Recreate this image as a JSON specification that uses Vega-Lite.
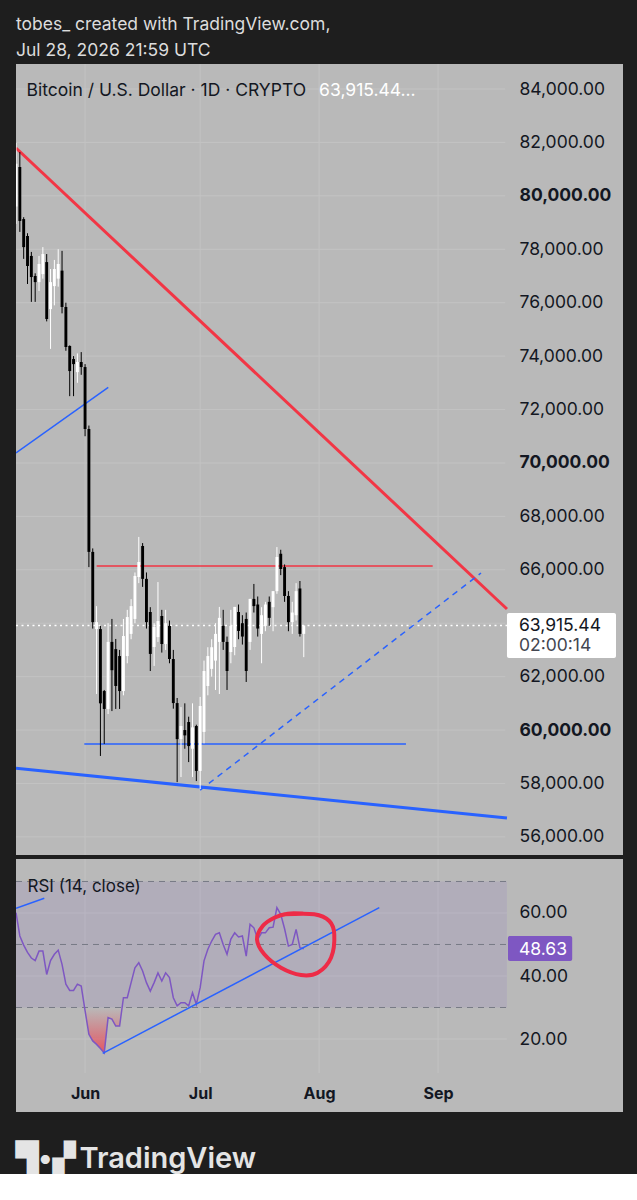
{
  "$schema": "https://vega.github.io/schema/vega-lite/v6.json",
  "background": "#1e1e1e",
  "padding": {"left": 15, "right": 15, "top": 16, "bottom": 0},
  "spacing": 2,
  "title": {"text": ["tobes_ created with TradingView.com,", "Jul 28, 2026 21:59 UTC"], "anchor": "start", "frame": "group", "color": "#dcdcdc", "font": "Inter", "fontSize": 17.5, "fontWeight": "normal", "lineHeight": 26, "offset": 4},
  "config": {
    "view": {"stroke": null},
    "axis": {"domain": false, "ticks": false, "grid": false, "labelFont": "Inter", "labelFontSize": 17.5, "labelColor": "#131722"}
  },
  "resolve": {"scale": {"x": "independent", "y": "independent"}},
  "vconcat": [
    {
      "width": 607,
      "height": 791,
      "view": {"fill": "#b9b9b9", "stroke": null},
      "layer": [
        {
          "data": {"values": [{"date": "2026-06-01T00:00:00Z"}, {"date": "2026-07-01T00:00:00Z"}, {"date": "2026-08-01T00:00:00Z"}, {"date": "2026-09-01T00:00:00Z"}]},
          "mark": {"type": "rule", "color": "#c3c3c3", "strokeWidth": 1},
          "encoding": {"x": {"field": "date", "type": "temporal", "scale": {"type": "utc", "padding": 0, "domain": [{"year": 2026, "month": 5, "date": 14, "utc": true}, {"year": 2026, "month": 10, "date": 19, "hours": 4, "minutes": 48, "utc": true}]}, "axis": null}}
        },
        {
          "data": {"values": [{"price": 56000}, {"price": 58000}, {"price": 60000}, {"price": 62000}, {"price": 64000}, {"price": 66000}, {"price": 68000}, {"price": 70000}, {"price": 72000}, {"price": 74000}, {"price": 76000}, {"price": 78000}, {"price": 80000}, {"price": 82000}, {"price": 84000}]},
          "mark": {"type": "rule", "color": "#c3c3c3", "strokeWidth": 1},
          "encoding": {
            "x": {"datum": {"year": 2026, "month": 5, "date": 14, "utc": true}, "type": "temporal"},
            "x2": {"datum": {"year": 2026, "month": 9, "date": 18, "hours": 12, "utc": true}},
            "y": {"field": "price", "type": "quantitative", "scale": {"domain": [55322, 84936], "nice": false, "zero": false, "padding": 0},
              "axis": {"orient": "right", "offset": -117, "labelPadding": 13, "title": null, "format": ",.2f",
                "values": [56000, 58000, 60000, 62000, 66000, 68000, 70000, 72000, 74000, 76000, 78000, 80000, 82000, 84000],
                "labelFontWeight": {"condition": {"test": "datum.value % 10000 === 0", "value": "bold"}, "value": "normal"}}}
          }
        },
        {
          "data": {"values": [{}]},
          "mark": {"type": "rule", "color": "#ffffff", "strokeWidth": 1.5, "strokeDash": [2, 3.5]},
          "encoding": {
            "x": {"datum": {"year": 2026, "month": 5, "date": 14, "utc": true}, "type": "temporal"},
            "x2": {"datum": {"year": 2026, "month": 9, "date": 18, "hours": 23, "utc": true}},
            "y": {"datum": 63915.44, "type": "quantitative", "title": null}
          }
        },
        {
          "data": {"values": [{"date": "2026-05-14T00:00:00Z", "price": 81789}, {"date": "2026-09-18T23:00:00Z", "price": 64531}]},
          "mark": {"type": "line", "color": "#f23645", "strokeWidth": 3, "clip": true},
          "encoding": {"x": {"field": "date", "type": "temporal"}, "y": {"field": "price", "type": "quantitative", "title": null}}
        },
        {
          "data": {"values": [{"date": "2026-06-04T00:43:00Z", "price": 66141}, {"date": "2026-08-30T14:24:00Z", "price": 66141}]},
          "mark": {"type": "line", "color": "#f23645", "strokeWidth": 1.5},
          "encoding": {"x": {"field": "date", "type": "temporal"}, "y": {"field": "price", "type": "quantitative", "title": null}}
        },
        {
          "data": {"values": [{"date": "2026-05-14T00:00:00Z", "price": 70372}, {"date": "2026-06-07T01:00:00Z", "price": 72832}]},
          "mark": {"type": "line", "color": "#2962ff", "strokeWidth": 1.5, "clip": true},
          "encoding": {"x": {"field": "date", "type": "temporal"}, "y": {"field": "price", "type": "quantitative", "title": null}}
        },
        {
          "data": {"values": [{"date": "2026-05-31T19:12:00Z", "price": 59477}, {"date": "2026-08-23T15:22:00Z", "price": 59477}]},
          "mark": {"type": "line", "color": "#2962ff", "strokeWidth": 1.5},
          "encoding": {"x": {"field": "date", "type": "temporal"}, "y": {"field": "price", "type": "quantitative", "title": null}}
        },
        {
          "data": {"values": [{"date": "2026-05-14T00:00:00Z", "price": 58567}, {"date": "2026-09-18T23:00:00Z", "price": 56706}]},
          "mark": {"type": "line", "color": "#2962ff", "strokeWidth": 3, "clip": true},
          "encoding": {"x": {"field": "date", "type": "temporal"}, "y": {"field": "price", "type": "quantitative", "title": null}}
        },
        {
          "data": {"values": [{"date": "2026-07-01T00:00:00Z", "price": 57750}, {"date": "2026-09-12T04:34:00Z", "price": 65879}]},
          "mark": {"type": "line", "color": "#2962ff", "strokeWidth": 1.5, "strokeDash": [6, 5]},
          "encoding": {"x": {"field": "date", "type": "temporal"}, "y": {"field": "price", "type": "quantitative", "title": null}}
        },
        {
          "data": {"name": "candles"},
          "layer": [
            {
              "mark": {"type": "rule", "strokeWidth": 1, "clip": true},
              "encoding": {
                "x": {"field": "date", "type": "temporal"},
                "y": {"field": "low", "type": "quantitative", "title": null},
                "y2": {"field": "high"},
                "color": {"condition": {"test": "datum.close >= datum.open", "value": "#ffffff"}, "value": "#000000"}
              }
            },
            {
              "mark": {"type": "bar", "width": 2.9, "clip": true},
              "encoding": {
                "x": {"field": "date", "type": "temporal"},
                "y": {"field": "open", "type": "quantitative", "title": null},
                "y2": {"field": "close"},
                "color": {"condition": {"test": "datum.close >= datum.open", "value": "#ffffff"}, "value": "#000000"}
              }
            }
          ]
        },
        {
          "data": {"values": [{"date": "2026-05-16T18:00:00Z", "price": 83738, "label": "Bitcoin / U.S. Dollar · 1D · CRYPTO"}]},
          "mark": {"type": "text", "align": "left", "baseline": "alphabetic", "font": "Inter", "fontSize": 17.5, "color": "#131722"},
          "encoding": {"x": {"field": "date", "type": "temporal"}, "y": {"field": "price", "type": "quantitative", "title": null}, "text": {"field": "label"}}
        },
        {
          "data": {"values": [{"date": "2026-08-01T00:00:00Z", "price": 83738, "label": "63,915.44..."}]},
          "mark": {"type": "text", "align": "left", "baseline": "alphabetic", "font": "Inter", "fontSize": 17.5, "color": "#ffffff"},
          "encoding": {"x": {"field": "date", "type": "temporal"}, "y": {"field": "price", "type": "quantitative", "title": null}, "text": {"field": "label"}}
        },
        {
          "data": {"values": [{}]},
          "mark": {"type": "rect", "color": "#ffffff", "cornerRadius": 2},
          "encoding": {
            "x": {"datum": {"year": 2026, "month": 9, "date": 18, "hours": 23, "utc": true}, "type": "temporal"},
            "x2": {"datum": {"year": 2026, "month": 10, "date": 17, "hours": 9, "utc": true}},
            "y": {"datum": 64382, "type": "quantitative", "title": null},
            "y2": {"datum": 62697}
          }
        },
        {
          "data": {"values": [{"date": "2026-09-22T02:00:00Z", "price": 63708, "label": "63,915.44", "kind": "price"}, {"date": "2026-09-22T02:00:00Z", "price": 62970, "label": "02:00:14", "kind": "timer"}]},
          "mark": {"type": "text", "align": "left", "baseline": "alphabetic", "font": "Inter", "fontSize": 17.5},
          "encoding": {
            "x": {"field": "date", "type": "temporal"},
            "y": {"field": "price", "type": "quantitative", "title": null},
            "text": {"field": "label"},
            "color": {"field": "kind", "type": "nominal", "scale": {"domain": ["price", "timer"], "range": ["#131722", "#434651"]}, "legend": null}
          }
        }
      ]
    },
    {
      "width": 607,
      "height": 253,
      "view": {"fill": "#b9b9b9", "stroke": null},
      "title": {"text": "▜•▞\u2009TradingView", "orient": "bottom", "anchor": "start", "frame": "group", "font": "Inter", "fontSize": 29, "fontWeight": 600, "color": "#e4e4e4", "offset": 33},
      "layer": [
        {
          "data": {"values": [{"date": "2026-06-01T00:00:00Z"}, {"date": "2026-07-01T00:00:00Z"}, {"date": "2026-08-01T00:00:00Z"}, {"date": "2026-09-01T00:00:00Z"}]},
          "mark": {"type": "rule", "color": "#c3c3c3", "strokeWidth": 1},
          "encoding": {
            "x": {"field": "date", "type": "temporal", "scale": {"type": "utc", "padding": 0, "domain": [{"year": 2026, "month": 5, "date": 14, "utc": true}, {"year": 2026, "month": 10, "date": 19, "hours": 4, "minutes": 48, "utc": true}]},
              "axis": {"orient": "bottom", "offset": -29, "labelPadding": 2, "format": "%b", "title": null, "labelFontWeight": "bold", "labelFontSize": 16, "labelFlush": false,
                "values": [{"year": 2026, "month": 6, "date": 1, "utc": true}, {"year": 2026, "month": 7, "date": 1, "utc": true}, {"year": 2026, "month": 8, "date": 1, "utc": true}, {"year": 2026, "month": 9, "date": 1, "utc": true}]}},
            "y": {"datum": 77.14, "type": "quantitative", "title": null},
            "y2": {"datum": 9.2}
          }
        },
        {
          "data": {"values": [{"rsi": 20}, {"rsi": 40}, {"rsi": 60}]},
          "mark": {"type": "rule", "color": "#c3c3c3", "strokeWidth": 1},
          "encoding": {
            "x": {"datum": {"year": 2026, "month": 5, "date": 14, "utc": true}, "type": "temporal"},
            "x2": {"datum": {"year": 2026, "month": 9, "date": 18, "hours": 23, "utc": true}},
            "y": {"field": "rsi", "type": "quantitative", "scale": {"domain": [-3.17, 77.14], "nice": false, "zero": false, "padding": 0},
              "axis": {"orient": "right", "offset": -117, "labelPadding": 13, "title": null, "format": ".2f", "values": [20, 40, 60]}}
          }
        },
        {
          "data": {"values": [{}]},
          "mark": {"type": "rect", "color": "#7e57c2", "opacity": 0.12},
          "encoding": {
            "x": {"datum": {"year": 2026, "month": 5, "date": 14, "utc": true}, "type": "temporal"},
            "x2": {"datum": {"year": 2026, "month": 9, "date": 18, "hours": 23, "utc": true}},
            "y": {"datum": 70, "type": "quantitative", "title": null},
            "y2": {"datum": 30}
          }
        },
        {
          "data": {"values": [{"rsi": 70}, {"rsi": 50}, {"rsi": 30}]},
          "mark": {"type": "rule", "color": "#787b86", "strokeWidth": 1, "strokeDash": [6, 5]},
          "encoding": {
            "x": {"datum": {"year": 2026, "month": 5, "date": 14, "utc": true}, "type": "temporal"},
            "x2": {"datum": {"year": 2026, "month": 9, "date": 18, "hours": 23, "utc": true}},
            "y": {"field": "rsi", "type": "quantitative", "title": null}
          }
        },
        {
          "data": {"values": [
            {"date": "2026-05-31T15:22:00Z", "rsi": 30}, {"date": "2026-06-01T00:00:00Z", "rsi": 29.0}, {"date": "2026-06-02T00:00:00Z", "rsi": 21.5},
            {"date": "2026-06-03T00:00:00Z", "rsi": 19.4}, {"date": "2026-06-04T00:00:00Z", "rsi": 18.3}, {"date": "2026-06-05T00:00:00Z", "rsi": 17.0},
            {"date": "2026-06-06T00:00:00Z", "rsi": 15.6}, {"date": "2026-06-07T00:00:00Z", "rsi": 26.8}, {"date": "2026-06-08T00:00:00Z", "rsi": 26.3},
            {"date": "2026-06-09T00:00:00Z", "rsi": 24.1}, {"date": "2026-06-10T00:00:00Z", "rsi": 24.1}, {"date": "2026-06-10T15:50:00Z", "rsi": 30}
          ]},
          "mark": {"type": "area", "color": {"gradient": "linear", "x1": 0, "y1": 0, "x2": 0, "y2": 1, "stops": [{"offset": 0, "color": "rgba(242,54,69,0)"}, {"offset": 1, "color": "rgba(242,54,69,0.75)"}]}},
          "encoding": {
            "x": {"field": "date", "type": "temporal"},
            "y": {"field": "rsi", "type": "quantitative", "title": null},
            "y2": {"datum": 30}
          }
        },
        {
          "data": {"name": "candles"},
          "mark": {"type": "line", "color": "#7e57c2", "strokeWidth": 1.5, "clip": true},
          "encoding": {"x": {"field": "date", "type": "temporal"}, "y": {"field": "rsi", "type": "quantitative", "title": null}}
        },
        {
          "data": {"values": [{"date": "2026-06-05T14:24:00Z", "rsi": 15.46}, {"date": "2026-08-16T16:19:00Z", "rsi": 61.7}]},
          "mark": {"type": "line", "color": "#2962ff", "strokeWidth": 1.5},
          "encoding": {"x": {"field": "date", "type": "temporal"}, "y": {"field": "rsi", "type": "quantitative", "title": null}}
        },
        {
          "data": {"values": [{"date": "2026-05-14T00:00:00Z", "rsi": 61.5}, {"date": "2026-05-21T09:00:00Z", "rsi": 64.7}]},
          "mark": {"type": "line", "color": "#2962ff", "strokeWidth": 1.5, "clip": true},
          "encoding": {"x": {"field": "date", "type": "temporal"}, "y": {"field": "rsi", "type": "quantitative", "title": null}}
        },
        {
          "data": {"values": [
            {"step": 1, "date": "2026-07-22T22:05:00Z", "rsi": 59.59}, {"step": 2, "date": "2026-07-30T17:46:00Z", "rsi": 59.59},
            {"step": 3, "date": "2026-08-03T15:36:00Z", "rsi": 57.46}, {"step": 4, "date": "2026-08-04T22:48:00Z", "rsi": 53.24},
            {"step": 5, "date": "2026-08-04T02:24:00Z", "rsi": 45.81}, {"step": 6, "date": "2026-07-31T15:07:00Z", "rsi": 41.05},
            {"step": 7, "date": "2026-07-27T06:43:00Z", "rsi": 40.32}, {"step": 8, "date": "2026-07-22T01:26:00Z", "rsi": 42.63},
            {"step": 9, "date": "2026-07-17T17:02:00Z", "rsi": 46.89}, {"step": 10, "date": "2026-07-15T19:26:00Z", "rsi": 51.65},
            {"step": 11, "date": "2026-07-17T07:12:00Z", "rsi": 55.87}, {"step": 12, "date": "2026-07-20T07:41:00Z", "rsi": 58.51},
            {"step": 13, "date": "2026-07-23T19:26:00Z", "rsi": 59.78}, {"step": 14, "date": "2026-07-27T17:17:00Z", "rsi": 59.78}
          ]},
          "mark": {"type": "line", "color": "#ee2b47", "strokeWidth": 4, "interpolate": "cardinal", "strokeCap": "round"},
          "encoding": {"x": {"field": "date", "type": "temporal"}, "y": {"field": "rsi", "type": "quantitative", "title": null}, "order": {"field": "step", "type": "quantitative"}}
        },
        {
          "data": {"values": [{"date": "2026-05-17T00:00:00Z", "rsi": 66.76, "label": "RSI (14, close)"}]},
          "mark": {"type": "text", "align": "left", "baseline": "alphabetic", "font": "Inter", "fontSize": 17, "color": "#131722"},
          "encoding": {"x": {"field": "date", "type": "temporal"}, "y": {"field": "rsi", "type": "quantitative", "title": null}, "text": {"field": "label"}}
        },
        {
          "data": {"values": [{}]},
          "mark": {"type": "rect", "color": "#7e57c2", "cornerRadius": 2},
          "encoding": {
            "x": {"datum": {"year": 2026, "month": 9, "date": 19, "hours": 5, "utc": true}, "type": "temporal"},
            "x2": {"datum": {"year": 2026, "month": 10, "date": 5, "hours": 23, "utc": true}},
            "y": {"datum": 52.7, "type": "quantitative", "title": null},
            "y2": {"datum": 44.76}
          }
        },
        {
          "data": {"values": [{"date": "2026-09-22T02:00:00Z", "rsi": 46.67, "label": "48.63"}]},
          "mark": {"type": "text", "align": "left", "baseline": "alphabetic", "font": "Inter", "fontSize": 17.5, "color": "#ffffff"},
          "encoding": {"x": {"field": "date", "type": "temporal"}, "y": {"field": "rsi", "type": "quantitative", "title": null}, "text": {"field": "label"}}
        }
      ]
    }
  ],
  "datasets": {
    "candles": [
      {"date": "2026-05-14T00:00:00Z", "open": 79600, "high": 81980, "low": 78950, "close": 81200, "rsi": 60.1},
      {"date": "2026-05-15T00:00:00Z", "open": 81080, "high": 81640, "low": 78650, "close": 79060, "rsi": 52.7},
      {"date": "2026-05-16T00:00:00Z", "open": 79130, "high": 79200, "low": 77640, "close": 78080, "rsi": 49.8},
      {"date": "2026-05-17T00:00:00Z", "open": 78500, "high": 78600, "low": 76700, "close": 77370, "rsi": 47.5},
      {"date": "2026-05-18T00:00:00Z", "open": 77750, "high": 77900, "low": 76030, "close": 76960, "rsi": 45.7},
      {"date": "2026-05-19T00:00:00Z", "open": 77000, "high": 77100, "low": 76030, "close": 76770, "rsi": 44.9},
      {"date": "2026-05-20T00:00:00Z", "open": 76770, "high": 77750, "low": 76440, "close": 77450, "rsi": 47.9},
      {"date": "2026-05-21T00:00:00Z", "open": 77070, "high": 78080, "low": 76900, "close": 77820, "rsi": 47.9},
      {"date": "2026-05-22T00:00:00Z", "open": 77520, "high": 77820, "low": 75300, "close": 75390, "rsi": 40.5},
      {"date": "2026-05-23T00:00:00Z", "open": 75760, "high": 77260, "low": 74270, "close": 76770, "rsi": 44.9},
      {"date": "2026-05-24T00:00:00Z", "open": 76620, "high": 77600, "low": 75900, "close": 77260, "rsi": 46.9},
      {"date": "2026-05-25T00:00:00Z", "open": 76900, "high": 78000, "low": 76600, "close": 77450, "rsi": 48.2},
      {"date": "2026-05-26T00:00:00Z", "open": 77200, "high": 77940, "low": 75600, "close": 75840, "rsi": 43.7},
      {"date": "2026-05-27T00:00:00Z", "open": 75840, "high": 76000, "low": 74200, "close": 74340, "rsi": 37.4},
      {"date": "2026-05-28T00:00:00Z", "open": 74380, "high": 74400, "low": 72500, "close": 73440, "rsi": 35.4},
      {"date": "2026-05-29T00:00:00Z", "open": 73890, "high": 74000, "low": 72500, "close": 73700, "rsi": 35.4},
      {"date": "2026-05-30T00:00:00Z", "open": 73400, "high": 74100, "low": 73000, "close": 73780, "rsi": 37.4},
      {"date": "2026-05-31T00:00:00Z", "open": 73780, "high": 74150, "low": 73300, "close": 73590, "rsi": 36.8},
      {"date": "2026-06-01T00:00:00Z", "open": 73590, "high": 73700, "low": 71000, "close": 71270, "rsi": 29.0},
      {"date": "2026-06-02T00:00:00Z", "open": 71270, "high": 71400, "low": 66100, "close": 66670, "rsi": 21.5},
      {"date": "2026-06-03T00:00:00Z", "open": 66670, "high": 66800, "low": 63800, "close": 64040, "rsi": 19.4},
      {"date": "2026-06-04T00:00:00Z", "open": 63780, "high": 64640, "low": 61350, "close": 64040, "rsi": 18.3},
      {"date": "2026-06-05T00:00:00Z", "open": 63780, "high": 63900, "low": 59030, "close": 61000, "rsi": 17.0},
      {"date": "2026-06-06T00:00:00Z", "open": 61460, "high": 61500, "low": 59480, "close": 60790, "rsi": 15.6},
      {"date": "2026-06-07T00:00:00Z", "open": 60790, "high": 64000, "low": 60600, "close": 63300, "rsi": 26.8},
      {"date": "2026-06-08T00:00:00Z", "open": 63300, "high": 64160, "low": 60710, "close": 62240, "rsi": 26.3},
      {"date": "2026-06-09T00:00:00Z", "open": 63030, "high": 63410, "low": 60790, "close": 61650, "rsi": 24.1},
      {"date": "2026-06-10T00:00:00Z", "open": 62770, "high": 63000, "low": 60790, "close": 61460, "rsi": 24.1},
      {"date": "2026-06-11T00:00:00Z", "open": 61460, "high": 64160, "low": 61300, "close": 63520, "rsi": 33.1},
      {"date": "2026-06-12T00:00:00Z", "open": 62770, "high": 64500, "low": 62500, "close": 64230, "rsi": 33.1},
      {"date": "2026-06-13T00:00:00Z", "open": 63600, "high": 64900, "low": 63400, "close": 64640, "rsi": 37.9},
      {"date": "2026-06-14T00:00:00Z", "open": 64160, "high": 65900, "low": 64000, "close": 65770, "rsi": 42.6},
      {"date": "2026-06-15T00:00:00Z", "open": 65730, "high": 67230, "low": 65500, "close": 66290, "rsi": 44.2},
      {"date": "2026-06-16T00:00:00Z", "open": 66890, "high": 67000, "low": 65360, "close": 65660, "rsi": 41.6},
      {"date": "2026-06-17T00:00:00Z", "open": 65660, "high": 65900, "low": 63800, "close": 64040, "rsi": 37.9},
      {"date": "2026-06-18T00:00:00Z", "open": 64420, "high": 64600, "low": 62210, "close": 62850, "rsi": 35.2},
      {"date": "2026-06-19T00:00:00Z", "open": 63110, "high": 64000, "low": 62400, "close": 63860, "rsi": 37.9},
      {"date": "2026-06-20T00:00:00Z", "open": 63480, "high": 65540, "low": 63300, "close": 64080, "rsi": 41.0},
      {"date": "2026-06-21T00:00:00Z", "open": 64270, "high": 64500, "low": 62900, "close": 63220, "rsi": 38.4},
      {"date": "2026-06-22T00:00:00Z", "open": 63220, "high": 64500, "low": 63000, "close": 64000, "rsi": 41.0},
      {"date": "2026-06-23T00:00:00Z", "open": 63900, "high": 64100, "low": 62500, "close": 62660, "rsi": 39.5},
      {"date": "2026-06-24T00:00:00Z", "open": 62660, "high": 63000, "low": 60800, "close": 61010, "rsi": 33.1},
      {"date": "2026-06-25T00:00:00Z", "open": 61010, "high": 61200, "low": 58050, "close": 59660, "rsi": 30.5},
      {"date": "2026-06-26T00:00:00Z", "open": 59660, "high": 60860, "low": 58240, "close": 60150, "rsi": 31.5},
      {"date": "2026-06-27T00:00:00Z", "open": 60000, "high": 61000, "low": 59300, "close": 59800, "rsi": 31.5},
      {"date": "2026-06-28T00:00:00Z", "open": 60300, "high": 60500, "low": 58800, "close": 59400, "rsi": 30.5},
      {"date": "2026-06-29T00:00:00Z", "open": 59300, "high": 61000, "low": 58240, "close": 60100, "rsi": 34.7},
      {"date": "2026-06-30T00:00:00Z", "open": 60150, "high": 60200, "low": 58090, "close": 58470, "rsi": 31.0},
      {"date": "2026-07-01T00:00:00Z", "open": 58470, "high": 61240, "low": 57790, "close": 60900, "rsi": 36.3},
      {"date": "2026-07-02T00:00:00Z", "open": 59930, "high": 62600, "low": 59500, "close": 62210, "rsi": 44.8},
      {"date": "2026-07-03T00:00:00Z", "open": 61650, "high": 63100, "low": 61300, "close": 62770, "rsi": 48.5},
      {"date": "2026-07-04T00:00:00Z", "open": 62290, "high": 63400, "low": 62000, "close": 63100, "rsi": 51.1},
      {"date": "2026-07-05T00:00:00Z", "open": 62600, "high": 64000, "low": 61500, "close": 63600, "rsi": 53.2},
      {"date": "2026-07-06T00:00:00Z", "open": 63300, "high": 64610, "low": 61350, "close": 64200, "rsi": 53.7},
      {"date": "2026-07-07T00:00:00Z", "open": 63900, "high": 64500, "low": 63000, "close": 63300, "rsi": 50.0},
      {"date": "2026-07-08T00:00:00Z", "open": 63300, "high": 63500, "low": 61500, "close": 62210, "rsi": 46.9},
      {"date": "2026-07-09T00:00:00Z", "open": 62920, "high": 64500, "low": 62500, "close": 63900, "rsi": 51.7},
      {"date": "2026-07-10T00:00:00Z", "open": 63110, "high": 64610, "low": 62800, "close": 64610, "rsi": 53.7},
      {"date": "2026-07-11T00:00:00Z", "open": 64420, "high": 64700, "low": 63400, "close": 63710, "rsi": 52.4},
      {"date": "2026-07-12T00:00:00Z", "open": 64000, "high": 64300, "low": 63200, "close": 63500, "rsi": 52.7},
      {"date": "2026-07-13T00:00:00Z", "open": 64160, "high": 64400, "low": 61800, "close": 62210, "rsi": 46.3},
      {"date": "2026-07-14T00:00:00Z", "open": 63300, "high": 64910, "low": 63000, "close": 64910, "rsi": 56.4},
      {"date": "2026-07-15T00:00:00Z", "open": 64910, "high": 65470, "low": 64400, "close": 64640, "rsi": 55.3},
      {"date": "2026-07-16T00:00:00Z", "open": 64700, "high": 65000, "low": 63500, "close": 63800, "rsi": 51.7},
      {"date": "2026-07-17T00:00:00Z", "open": 63600, "high": 64600, "low": 62500, "close": 64300, "rsi": 53.7},
      {"date": "2026-07-18T00:00:00Z", "open": 63900, "high": 64800, "low": 63700, "close": 64700, "rsi": 53.7},
      {"date": "2026-07-19T00:00:00Z", "open": 64800, "high": 65000, "low": 63900, "close": 64200, "rsi": 55.3},
      {"date": "2026-07-20T00:00:00Z", "open": 64600, "high": 65200, "low": 63700, "close": 65200, "rsi": 55.5},
      {"date": "2026-07-21T00:00:00Z", "open": 65200, "high": 66850, "low": 65100, "close": 66480, "rsi": 61.7},
      {"date": "2026-07-22T00:00:00Z", "open": 66600, "high": 66750, "low": 65800, "close": 66030, "rsi": 59.6},
      {"date": "2026-07-23T00:00:00Z", "open": 66100, "high": 66200, "low": 64800, "close": 65020, "rsi": 55.0},
      {"date": "2026-07-24T00:00:00Z", "open": 65020, "high": 65200, "low": 63700, "close": 64040, "rsi": 49.5},
      {"date": "2026-07-25T00:00:00Z", "open": 64040, "high": 64800, "low": 63600, "close": 64400, "rsi": 50.0},
      {"date": "2026-07-26T00:00:00Z", "open": 64300, "high": 65500, "low": 64100, "close": 65200, "rsi": 54.8},
      {"date": "2026-07-27T00:00:00Z", "open": 65300, "high": 65580, "low": 63500, "close": 63600, "rsi": 49.0},
      {"date": "2026-07-28T00:00:00Z", "open": 63600, "high": 63915, "low": 62730, "close": 63915, "rsi": 48.63}
    ]
  }
}
